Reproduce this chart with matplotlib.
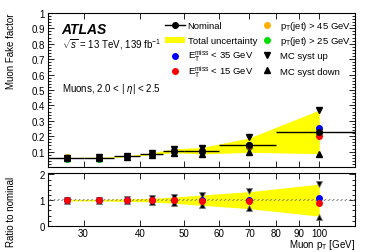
import matplotlib
matplotlib.use("Agg")
import matplotlib.pyplot as plt
from matplotlib.lines import Line2D
from matplotlib.patches import Patch
from matplotlib.legend import Legend
from matplotlib.ticker import MultipleLocator, FixedLocator, NullLocator, FixedFormatter
import numpy as np

plt.rcParams['font.family'] = ['Liberation Sans', 'DejaVu Sans']
plt.rcParams['mathtext.fontset'] = 'custom'
plt.rcParams['mathtext.rm'] = 'Liberation Sans'
plt.rcParams['mathtext.it'] = 'Liberation Sans:italic'
plt.rcParams['hatch.color'] = '#777777'
plt.rcParams['hatch.linewidth'] = 0.6

# ---- data ----
pt = [27.5, 32.5, 37.5, 42.5, 47.5, 55, 70, 100]
bin_lo = [25, 30, 35, 40, 45, 50, 60, 80]
bin_hi = [30, 35, 40, 45, 50, 60, 80, 120]
nominal = [0.060, 0.061, 0.069, 0.086, 0.105, 0.106, 0.142, 0.228]
nominal_err = [0.004, 0.004, 0.005, 0.006, 0.008, 0.008, 0.010, 0.015]
total_unc_frac = [0.03, 0.03, 0.05, 0.07, 0.12, 0.20, 0.33, 0.62]
met35_ratio = [1.0, 1.0, 1.0, 1.0, 1.0, 1.0, 1.02, 1.10]
met15_ratio = [1.0, 1.0, 1.0, 1.0, 0.99, 0.98, 0.98, 0.89]
jet45 = [0.067, 0.066, 0.074, 0.088, 0.106, 0.107, 0.145, 0.238]
jet25 = [0.053, 0.055, 0.065, 0.080, 0.099, 0.100, 0.128, 0.220]
mcup_ratio = [1.02, 1.02, 1.05, 1.07, 1.12, 1.19, 1.35, 1.62]
mcdown_ratio = [0.98, 0.98, 0.95, 0.93, 0.88, 0.80, 0.69, 0.36]
stat_band = 0.05
xticks = [30, 40, 50, 60, 70, 80, 90, 100]

pt_a = np.array(pt)
nom = np.array(nominal)
frac = np.array(total_unc_frac)
xerr = [pt_a - np.array(bin_lo), np.array(bin_hi) - pt_a]

c_orange = '#FFB000'
c_green = '#00DD00'
c_blue = '#0000FF'
c_red = '#FF0000'
c_yellow = '#FFFF00'

fig = plt.figure(figsize=(3.74, 2.53), dpi=100)
ax = fig.add_axes([0.128, 0.336, 0.821, 0.609])
rx = fig.add_axes([0.128, 0.103, 0.821, 0.209])

ms = 4
# top panel
ax.fill_between(pt_a, nom * (1 - frac), nom * (1 + frac), color=c_yellow, lw=0, zorder=1)
ax.plot(pt_a, jet45, 'o', color=c_orange, ms=ms, zorder=3)
ax.plot(pt_a, jet25, 'o', color=c_green, ms=ms, zorder=3)
ax.plot(pt_a, nom * np.array(met35_ratio), 'o', color=c_blue, ms=ms, zorder=3)
ax.plot(pt_a, nom * np.array(met15_ratio), 'o', color=c_red, ms=ms, zorder=3)
ax.plot(pt_a, nom * np.array(mcup_ratio), 'v', color='black', ms=ms, zorder=4)
ax.plot(pt_a, nom * np.array(mcdown_ratio), '^', color='black', ms=ms, zorder=4)
ax.errorbar(pt_a, nom, xerr=xerr, yerr=nominal_err, fmt='o', color='black',
            ms=ms, lw=1.0, capsize=0, zorder=5)

# ratio panel
rx.fill_between(pt_a, 1 - frac, 1 + frac, color=c_yellow, lw=0, zorder=1)
rx.fill_between([25, 120], 1 - stat_band, 1 + stat_band, facecolor='none',
                edgecolor='#777777', hatch='////////', lw=0, zorder=2)
rx.plot(pt_a, mcup_ratio, 'v', color='black', ms=ms, zorder=4,
        mec='#777777', mew=0.6)
rx.plot(pt_a, mcdown_ratio, '^', color='black', ms=ms, zorder=4,
        mec='#777777', mew=0.6)
rx.plot(pt_a, met35_ratio, 'o', color=c_blue, ms=ms, zorder=5)
rx.plot(pt_a, met15_ratio, 'o', color=c_red, ms=ms, zorder=5)

for a in (ax, rx):
    a.set_xscale('log')
    a.set_xlim(25, 120)
    a.xaxis.set_major_locator(FixedLocator(xticks))
    a.xaxis.set_minor_locator(NullLocator())
    a.tick_params(which='both', direction='in', top=True, right=True,
                  labelsize=7, pad=2)
    a.tick_params(which='major', length=4, width=0.6)
    a.tick_params(which='minor', length=2, width=0.6)
    for s in a.spines.values():
        s.set_linewidth(0.8)

ax.set_ylim(0, 1.0)
ax.yaxis.set_major_locator(FixedLocator([0.1, 0.2, 0.3, 0.4, 0.5, 0.6, 0.7, 0.8, 0.9, 1.0]))
ax.yaxis.set_major_formatter(FixedFormatter(['0.1', '0.2', '0.3', '0.4', '0.5', '0.6', '0.7', '0.8', '0.9', '1']))
ax.yaxis.set_minor_locator(MultipleLocator(0.02))
ax.set_xticklabels([])

rx.set_ylim(0, 2.05)
rx.yaxis.set_major_locator(FixedLocator([0, 1, 2]))
rx.yaxis.set_minor_locator(MultipleLocator(0.2))
rx.set_xticklabels([str(v) for v in xticks])
rx.tick_params(axis='x', pad=1.5)

ax.set_ylabel('Muon Fake factor', fontsize=7, loc='top')
rx.set_ylabel('Ratio to nominal', fontsize=7)
ax.yaxis.set_label_coords(-0.105, 1.0)
rx.yaxis.set_label_coords(-0.105, 0.28)
rx.set_xlabel(r'Muon p$_{\mathrm{T}}$ [GeV]', fontsize=7, loc='right')
rx.xaxis.set_label_coords(1.0, -0.21)

ax.text(0.045, 0.898, 'ATLAS', transform=ax.transAxes, fontsize=10,
        fontweight='bold', fontstyle='italic', va='center')
ax.text(0.045, 0.80, r'$\sqrt{s}$ = 13 TeV, 139 fb$^{-1}$', transform=ax.transAxes,
        fontsize=7, va='center')
ax.text(0.045, 0.515, r'Muons, 2.0 < | $\eta$| < 2.5', transform=ax.transAxes,
        fontsize=7, va='center')

# legend: one entry per legend for exact row placement
entries = [
    (Line2D([], [], color='black', marker='o', ms=ms, lw=1.0), 'Nominal', 0.381, 0.916),
    (Patch(facecolor=c_yellow, edgecolor='none'), 'Total uncertainty', 0.381, 0.818),
    (Line2D([], [], color=c_blue, marker='o', ms=ms, lw=0),
     r'E$_{\mathrm{T}}^{\mathrm{miss}}$ < 35 GeV', 0.381, 0.721),
    (Line2D([], [], color=c_red, marker='o', ms=ms, lw=0),
     r'E$_{\mathrm{T}}^{\mathrm{miss}}$ < 15 GeV', 0.381, 0.623),
    (Line2D([], [], color=c_orange, marker='o', ms=ms, lw=0),
     r'p$_{\mathrm{T}}$(jet) > 45 GeV', 0.681, 0.916),
    (Line2D([], [], color=c_green, marker='o', ms=ms, lw=0),
     r'p$_{\mathrm{T}}$(jet) > 25 GeV', 0.681, 0.818),
    (Line2D([], [], color='black', marker='v', ms=ms, lw=0), 'MC syst up', 0.681, 0.721),
    (Line2D([], [], color='black', marker='^', ms=ms, lw=0), 'MC syst down', 0.681, 0.623),
]
for h, lab, lx, ly in entries:
    lg = Legend(ax, [h], [lab], frameon=False, fontsize=6.8, handlelength=2.1,
                handletextpad=0.3, borderpad=0, borderaxespad=0,
                loc='center left', bbox_to_anchor=(lx, ly),
                bbox_transform=ax.transAxes)
    ax.add_artist(lg)

fig.savefig('out.png', dpi=100)
